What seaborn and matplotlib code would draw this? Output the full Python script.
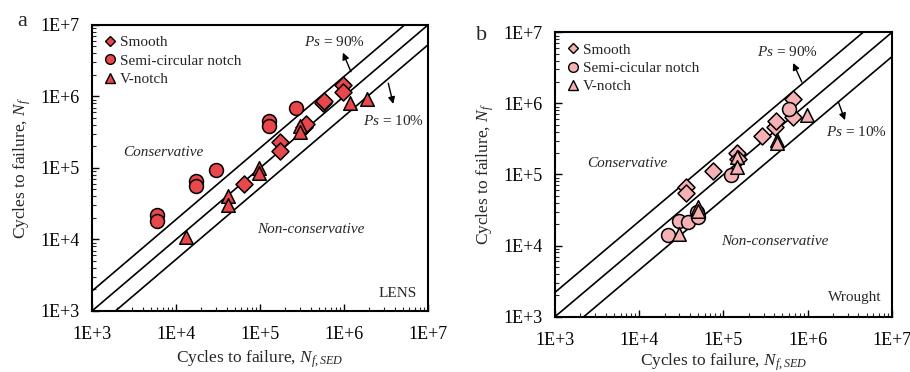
import numpy as np
import pandas as pd
import matplotlib
matplotlib.use("Agg")
import matplotlib.pyplot as plt
from matplotlib.lines import Line2D
import seaborn as sns

# Panel a - LENS
a_smooth_x = [6.5e4, 1.73e5, 1.75e5, 3.3e5, 3.5e5, 5.6e5, 5.8e5, 9.8e5, 9.8e5]
a_smooth_y = [6.0e4, 2.33e5, 1.75e5, 3.7e5, 4.1e5, 8.2e5, 8.6e5, 1.45e6, 1.15e6]
a_circ_x = [5.9e3, 5.9e3, 1.73e4, 1.73e4, 2.97e4, 1.28e5, 1.28e5, 2.66e5]
a_circ_y = [2.2e4, 1.83e4, 6.6e4, 5.6e4, 9.4e4, 4.5e5, 3.8e5, 6.8e5]
a_v_x = [1.32e4, 4.2e4, 4.2e4, 9.8e4, 9.8e4, 3.0e5, 3.0e5, 1.18e6, 1.86e6]
a_v_y = [1.09e4, 4.05e4, 3.04e4, 9.9e4, 8.5e4, 3.86e5, 3.2e5, 8.2e5, 9.1e5]

# Panel b - Wrought
b_smooth_x = [3.6e4, 3.6e4, 7.6e4, 1.46e5, 1.5e5, 2.9e5, 4.1e5, 4.2e5, 6.6e5, 6.7e5]
b_smooth_y = [6.6e4, 5.5e4, 1.13e5, 2.0e5, 1.65e5, 3.5e5, 4.6e5, 5.7e5, 1.14e6, 6.5e5]
b_circ_x = [2.2e4, 3.0e4, 3.8e4, 4.8e4, 5.0e4, 1.22e5, 6.0e5]
b_circ_y = [1.41e4, 2.2e4, 2.15e4, 3.0e4, 2.5e4, 9.8e4, 8.3e5]
b_v_x = [3.0e4, 5.0e4, 5.0e4, 1.46e5, 1.46e5, 4.3e5, 4.3e5, 9.7e5]
b_v_y = [1.47e4, 3.5e4, 3.1e4, 1.75e5, 1.26e5, 3.1e5, 2.75e5, 6.9e5]

tick_vals = [1e3, 1e4, 1e5, 1e6, 1e7]
tick_labels = ["1E+3", "1E+4", "1E+5", "1E+6", "1E+7"]
band_a = 1.9   # scatter band factor
band_b = 2.2

sns.set_theme(style="white")
plt.rcParams["font.family"] = ["Liberation Serif", "DejaVu Serif"]
plt.rcParams["mathtext.fontset"] = "custom"
plt.rcParams["mathtext.rm"] = "Liberation Serif"
plt.rcParams["mathtext.it"] = "Liberation Serif:italic"

FS = 11
TICK_FS = 13
LABEL_FS = 12.5


def make_df(sx, sy, cx, cy, vx, vy, circ_name):
    rows = []
    for x, y in zip(sx, sy):
        rows.append((x, y, "Smooth"))
    for x, y in zip(cx, cy):
        rows.append((x, y, circ_name))
    for x, y in zip(vx, vy):
        rows.append((x, y, "V-notch"))
    return pd.DataFrame(rows, columns=["N_sed", "N_f", "type"])


def draw_panel(ax, df, circ_name, color, band, tag, ann, xlabelpad):
    lims = np.array([1e3, 1e7])
    ax.plot(lims, lims, color="black", lw=1.2, zorder=1)
    ax.plot(lims, lims * band, color="black", lw=1.2, zorder=1)
    ax.plot(lims, lims / band, color="black", lw=1.2, zorder=1)

    markers = {"Smooth": "D", circ_name: "o", "V-notch": "^"}
    sizes = {"Smooth": 75, circ_name: 100, "V-notch": 95}
    for t in ["Smooth", circ_name, "V-notch"]:
        sub = df[df["type"] == t]
        sns.scatterplot(data=sub, x="N_sed", y="N_f", ax=ax, marker=markers[t],
                        s=sizes[t], color=color, edgecolor="black",
                        linewidth=1.1, zorder=3, legend=False)

    ax.set_xscale("log")
    ax.set_yscale("log")
    ax.set_xlim(1e3, 1e7)
    ax.set_ylim(1e3, 1e7)
    ax.set_xticks(tick_vals)
    ax.set_xticklabels(tick_labels)
    ax.set_yticks(tick_vals)
    ax.set_yticklabels(tick_labels)
    ax.tick_params(which="major", direction="in", length=5, width=1,
                   bottom=True, left=True, top=False, right=False,
                   labelsize=TICK_FS, colors="black")
    ax.tick_params(axis="x", which="major", pad=11)
    ax.tick_params(axis="y", which="major", pad=9)
    ax.tick_params(which="minor", direction="in", length=3, width=0.8,
                   bottom=True, left=True, top=False, right=False)
    for sp in ax.spines.values():
        sp.set_color("black")
        sp.set_linewidth(1.5)

    ax.set_xlabel("Cycles to failure, $N_{f,SED}$", fontsize=LABEL_FS,
                  labelpad=xlabelpad)
    ax.set_ylabel("Cycles to failure, $N_f$", fontsize=LABEL_FS, labelpad=5)

    handles = [Line2D([], [], marker=markers[t], ls="", markersize=ms,
                      markerfacecolor=color, markeredgecolor="black",
                      markeredgewidth=1.0)
               for t, ms in [("Smooth", 5.5), (circ_name, 7), ("V-notch", 6.5)]]
    ax.legend(handles, ["Smooth", circ_name, "V-notch"], loc="upper left",
              frameon=False, fontsize=FS, handletextpad=0.15,
              handlelength=1.0, labelspacing=0.3,
              borderaxespad=0.3, bbox_to_anchor=(0.0, 1.0))

    (t90, a90s, a90e, t10, a10s, a10e, cons, ncons, tagpos) = ann
    arrow = dict(arrowstyle="-|>", color="black", lw=1.0,
                 mutation_scale=10, shrinkA=0, shrinkB=0)
    ax.text(*t90, "$Ps$ = 90%", fontsize=FS, ha="center", va="center")
    ax.annotate("", xy=a90e, xytext=a90s, arrowprops=arrow)
    ax.text(*t10, "$Ps$ = 10%", fontsize=FS, ha="center", va="center")
    ax.annotate("", xy=a10e, xytext=a10s, arrowprops=arrow)
    ax.text(*cons, "Conservative", fontsize=FS, style="italic",
            ha="center", va="center")
    ax.text(*ncons, "Non-conservative", fontsize=FS, style="italic",
            ha="center", va="center")
    ax.text(*tagpos, tag, fontsize=FS, ha="right", va="center")


fig = plt.figure(figsize=(9.1, 3.72), dpi=100)
ax_a = fig.add_axes([0.1011, 0.164, 0.3692, 0.769])
ax_b = fig.add_axes([0.6099, 0.1487, 0.3703, 0.7645])

df_a = make_df(a_smooth_x, a_smooth_y, a_circ_x, a_circ_y, a_v_x, a_v_y,
               "Semi-circular notch")
df_b = make_df(b_smooth_x, b_smooth_y, b_circ_x, b_circ_y, b_v_x, b_v_y,
               "Semi-cicular notch")

ann_a = ((7.8e5, 5.7e6), (1.21e6, 2.22e6), (9.7e5, 4.1e6),
         (3.86e6, 4.6e5), (3.37e6, 1.53e6), (3.86e6, 7.85e5),
         (7.0e3, 1.67e5), (4.0e5, 1.36e4), (7.3e6, 1.75e3))
ann_b = ((5.8e5, 5.2e6), (8.5e5, 2.0e6), (6.7e5, 3.7e6),
         (3.8e6, 4.0e5), (2.3e6, 1.06e6), (2.77e6, 5.8e5),
         (7.2e3, 1.44e5), (4.1e5, 1.14e4), (7.5e6, 1.85e3))

draw_panel(ax_a, df_a, "Semi-circular notch", "#E8474B", band_a, "LENS",
           ann_a, 4)
draw_panel(ax_b, df_b, "Semi-cicular notch", "#F5B1B4", band_b, "Wrought",
           ann_b, 2)

fig.text(22 / 910, 1 - 22 / 372, "a", fontsize=16, ha="center", va="center")
fig.text(482 / 910, 1 - 35 / 372, "b", fontsize=16, ha="center", va="center")

fig.savefig("out.png", dpi=100)
